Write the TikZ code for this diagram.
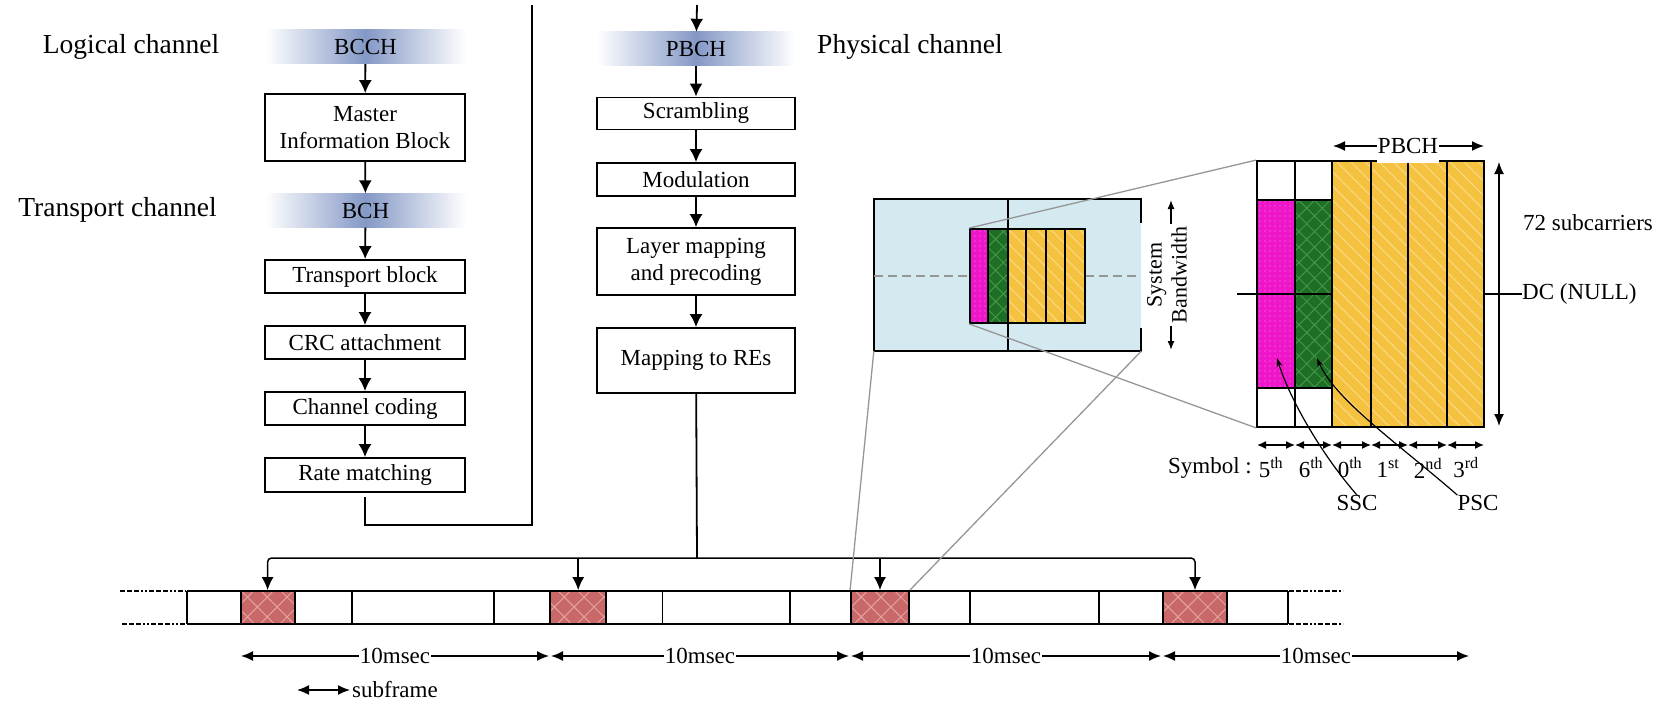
\documentclass[tikz,border=0pt]{standalone}
\usepackage{fontspec}
\setmainfont{Liberation Serif}
\usetikzlibrary{arrows.meta,patterns.meta}

\definecolor{bandblue}{RGB}{132,152,198}
\definecolor{skyfill}{RGB}{212,233,240}
\definecolor{pbchyellow}{RGB}{245,194,64}
\definecolor{pbchstripe}{RGB}{250,220,140}
\definecolor{pscgreen}{RGB}{30,110,38}
\definecolor{pschatch}{RGB}{66,152,70}
\definecolor{sscmagenta}{RGB}{238,22,200}
\definecolor{sscdots}{RGB}{250,140,232}
\definecolor{sfred}{RGB}{200,104,104}
\definecolor{sfhatch}{RGB}{228,162,162}
\definecolor{zoomgray}{RGB}{150,150,150}

\tikzset{
  txt/.style={font=\fontsize{23}{27}\selectfont, inner sep=0pt},
  bigtxt/.style={font=\fontsize{27.5}{32}\selectfont, inner sep=0pt},
  flowbox/.style={txt, draw, line width=1.8pt, minimum width=200pt, align=center},
  chband/.style={txt, minimum width=201pt, minimum height=34pt,
    left color=white, right color=white, middle color=bandblue},
  flowline/.style={line width=1.8pt},
  flowarrow/.style={line width=1.8pt, -{Latex[length=13pt,width=13pt]}},
  busarrow/.style={line width=1.5pt, -{Latex[length=13pt,width=12pt]}},
  dimarrow/.style={line width=1.5pt, {Latex[length=12pt,width=10pt]}-{Latex[length=12pt,width=10pt]}},
  symarrow/.style={line width=1.4pt, {Latex[length=9pt,width=8pt]}-{Latex[length=9pt,width=8pt]}},
  ptrline/.style={line width=1.2pt, -{Stealth[length=9pt,width=6pt]}},
  zoomline/.style={draw=zoomgray, line width=1.3pt},
  zoomdash/.style={draw=zoomgray, line width=1.3pt, dash pattern=on 9pt off 5pt},
  cellline/.style={line width=1.8pt},
  tailline/.style={line width=1.4pt, dash pattern=on 5pt off 2pt on 5pt off 2pt on 5pt off 2pt on 2pt off 2pt on 2pt off 2pt},
  yellowcell/.style={preaction={fill=pbchyellow}, pattern={Lines[angle=-45,distance=10pt,line width=0.9pt]}, pattern color=pbchstripe},
  greencell/.style={preaction={fill=pscgreen}, pattern={Hatch[angle=45,distance=11pt,line width=1pt]}, pattern color=pschatch},
  magentacell/.style={preaction={fill=sscmagenta}, pattern={Dots[distance=5pt,radius=0.7pt]}, pattern color=sscdots},
  sfblock/.style={preaction={fill=sfred}, pattern={Hatch[angle=45,distance=14pt,line width=1pt]},
    pattern color=sfhatch, draw, line width=1.8pt, minimum height=33pt, inner sep=0pt},
}

\begin{document}
\begin{tikzpicture}[x=1pt, y=-1pt]
\useasboundingbox (0,0) rectangle (1662,706);

% ---------------- transport side (left column) ----------------
\node[bigtxt] (lclbl) at (131,47) {Logical channel};
\node[bigtxt] (tclbl) at (117.5,210) {Transport channel};

\node[chband] (bcch) at (365.5,47) {BCCH};
\node[flowbox, minimum height=67pt] (mib) at (365,127.5) {Master\\Information Block};
\node[chband] (bch) at (365.5,210.5) {BCH};
\node[flowbox, minimum height=33pt] (tb) at (365,276.5) {Transport block};
\node[flowbox, minimum height=33pt] (crc) at (365,342.5) {CRC attachment};
\node[flowbox, minimum height=33pt] (cc) at (365,408.5) {Channel coding};
\node[flowbox, minimum height=34pt] (rm) at (365,475) {Rate matching};

\draw[flowarrow] (bcch) -- (mib);
\draw[flowarrow] (mib) -- (bch);
\draw[flowarrow] (bch) -- (tb);
\draw[flowarrow] (tb) -- (crc);
\draw[flowarrow] (crc) -- (cc);
\draw[flowarrow] (cc) -- (rm);

\coordinate (rmout) at (365,497);
\coordinate (lcorner) at (532,525);
\coordinate (ltop) at (532,5);
\draw[flowline] (rmout) |- (lcorner) -- (ltop);

% ---------------- physical side (middle column) ----------------
\coordinate (pbchin) at (697,5);
\node[chband, minimum width=198pt] (pbch) at (696,49) {PBCH};
\node[bigtxt, anchor=west] (pclbl) at (817,47) {Physical channel};
\node[flowbox, minimum width=198pt, minimum height=32pt] (scr) at (696,113.5) {Scrambling};
\node[flowbox, minimum width=198pt, minimum height=33pt] (mod) at (696,179.5) {Modulation};
\node[flowbox, minimum width=198pt, minimum height=67pt] (lmp) at (696,261.5) {Layer mapping\\and precoding};
\node[flowbox, minimum width=198pt, minimum height=65pt] (mre) at (696,360.5) {Mapping to REs};

\draw[flowarrow] (pbchin) -- (pbch);
\draw[flowarrow] (pbch) -- (scr);
\draw[flowarrow] (scr) -- (mod);
\draw[flowarrow] (mod) -- (lmp);
\draw[flowarrow] (lmp) -- (mre);

% ---------------- radio frame timeline ----------------
\foreach \xa in {186.6,294.7,352,494,606.5,662.5,790,909,970,1099,1227,1288}
  \draw[cellline] (\xa,591) -- (\xa,624);
\draw[cellline] (186.6,591) -- (1288,591);
\draw[cellline] (186.6,624) -- (1288,624);
\draw[tailline] (120,591) -- (186,591);
\draw[tailline] (122,624) -- (186,624);
\draw[tailline] (1289,591) -- (1343,591);
\draw[tailline] (1289,624) -- (1343,624);

\node[sfblock, minimum width=54pt] (rb1) at (267.6,607.5) {};
\node[sfblock, minimum width=56pt] (rb2) at (578.2,607.5) {};
\node[sfblock, minimum width=58pt] (rb3) at (880,607.5) {};
\node[sfblock, minimum width=64pt] (rb4) at (1195,607.5) {};

% PBCH repeated every frame
\coordinate (busmid) at (697,558);
\draw[flowline] (mre) -- (busmid);
\draw[busarrow, rounded corners=4pt] (busmid) -| (rb1.north);
\draw[busarrow, rounded corners=4pt] (busmid) -| (rb4.north);
\draw[busarrow] (rb2.north |- busmid) -- (rb2.north);
\draw[busarrow] (rb3.north |- busmid) -- (rb3.north);

% frame durations
\coordinate (f0) at (241,656);
\coordinate (f1) at (550,656);
\coordinate (f2) at (850,656);
\coordinate (f3) at (1162,656);
\coordinate (f4) at (1469,656);
\draw[dimarrow] (f0) -- ([xshift=-1pt]f1);
\draw[dimarrow] ([xshift=1pt]f1) -- ([xshift=-1pt]f2);
\draw[dimarrow] ([xshift=1pt]f2) -- ([xshift=-1pt]f3);
\draw[dimarrow] ([xshift=1pt]f3) -- (f4);
\node[txt, fill=white, inner xsep=1pt] (d1) at (395,656) {10msec};
\node[txt, fill=white, inner xsep=1pt] (d2) at (700,656) {10msec};
\node[txt, fill=white, inner xsep=1pt] (d3) at (1006,656) {10msec};
\node[txt, fill=white, inner xsep=1pt] (d4) at (1316,656) {10msec};

\coordinate (sfa) at (297,690);
\coordinate (sfb) at (350,690);
\draw[dimarrow] (sfa) -- (sfb);
\node[txt, anchor=west] (sflbl) at (352,690) {subframe};

% ---------------- system bandwidth view ----------------
\node[fill=skyfill, minimum width=267pt, minimum height=152pt, inner sep=0pt] (sysbw) at (1007.5,275) {};
\draw[cellline] ([yshift=-24pt]sysbw.north east) -- (sysbw.north east) -- (sysbw.north west)
  -- (sysbw.south west) -- (sysbw.south east) -- ([yshift=23pt]sysbw.south east);
\draw[cellline] (1008,199) -- (1008,351);
\draw[zoomdash] (874,276) -- (970,276);
\draw[zoomdash] (1085,276) -- (1141,276);

\path[magentacell] (970,229) rectangle (988,323);
\path[greencell] (988,229) rectangle (1008,323);
\path[yellowcell] (1008,229) rectangle (1085,323);
\foreach \xa in {988,1008,1026,1046}
  \draw[cellline] (\xa,229) -- (\xa,323);
\draw[line width=2.8pt] (1065,229) -- (1065,323);
\node[draw, line width=1.8pt, minimum width=115pt, minimum height=94pt, inner sep=0pt] (pbchsmall) at (1027.5,276) {};

\node[rotate=90, align=center, inner sep=0pt, font=\fontsize{22}{25}\selectfont] (sbwlbl) at (1167,275) {System\\Bandwidth};
\coordinate (sbwtop) at (1171,200);
\coordinate (sbwbot) at (1171,350);
\draw[line width=1.4pt, -{Latex[length=9pt,width=7pt]}] (1171,224) -- (sbwtop);
\draw[line width=1.4pt, -{Latex[length=9pt,width=7pt]}] (1171,326) -- (sbwbot);

% ---------------- PSS/SSS/PBCH detail ----------------
\path[yellowcell] (1332,161) rectangle (1484,427);
\path[magentacell] (1257,200) rectangle (1295,388);
\path[greencell] (1295,200) rectangle (1332,388);
\foreach \xa in {1295,1332,1371,1408,1447}
  \draw[cellline] (\xa,161) -- (\xa,427);
\draw[cellline] (1257,200) -- (1332,200);
\draw[cellline] (1257,388) -- (1332,388);
\node[draw, line width=1.8pt, minimum width=227pt, minimum height=266pt, inner sep=0pt] (biggrid) at (1370.5,294) {};
\draw[cellline] (1237,294) -- (1332,294);

% zoom guides
\draw[zoomline] (pbchsmall.north west) -- (biggrid.north west);
\draw[zoomline] (pbchsmall.south west) -- (biggrid.south west);
\draw[zoomline] (sysbw.south west) -- (rb3.north west);
\draw[zoomline] (sysbw.south east) -- (rb3.north east);

% PBCH span
\coordinate (pba) at (1333,146);
\coordinate (pbb) at (1484,146);
\draw[dimarrow] (pba) -- (pbb);
\node[txt, fill=white, minimum height=33pt, inner xsep=1pt] (pbchlbl) at (1408,146) {PBCH};

% 72 subcarriers and DC
\coordinate (sca) at (1499,162);
\coordinate (scb) at (1499,426);
\draw[dimarrow] (sca) -- (scb);
\node[txt, anchor=west] (sclbl) at (1523,223) {72 subcarriers};
\node[txt, anchor=west] (dclbl) at (1522,294) {DC (NULL)};
\draw[cellline] (biggrid.east) -- (dclbl.west);

% OFDM symbol indices
\foreach \xa/\xb in {1257/1295,1295/1332,1332/1371,1371/1408,1408/1447,1447/1484}
  \draw[symarrow] (\xa,445) -- (\xb,445);
\node[txt, anchor=east] (symlbl) at (1252,468) {Symbol :};
\node[txt] (s5) at (1271,468) {5\textsuperscript{th}};
\node[txt] (s6) at (1311,468) {6\textsuperscript{th}};
\node[txt] (s0) at (1350,468) {0\textsuperscript{th}};
\node[txt] (s1) at (1388,468) {1\textsuperscript{st}};
\node[txt] (s2) at (1428,468) {2\textsuperscript{nd}};
\node[txt] (s3) at (1466,468) {3\textsuperscript{rd}};

% sync signal pointers
\node[txt] (ssc) at (1357,503) {SSC};
\node[txt] (psc) at (1478,503) {PSC};
\coordinate (sscin) at (1277,358);
\coordinate (pscin) at (1317,358);
\draw[ptrline] (ssc.north) .. controls (1322,455) and (1290,400) .. (sscin);
\draw[ptrline] (psc.north west) .. controls (1400,445) and (1335,400) .. (pscin);
\end{tikzpicture}
\end{document}
